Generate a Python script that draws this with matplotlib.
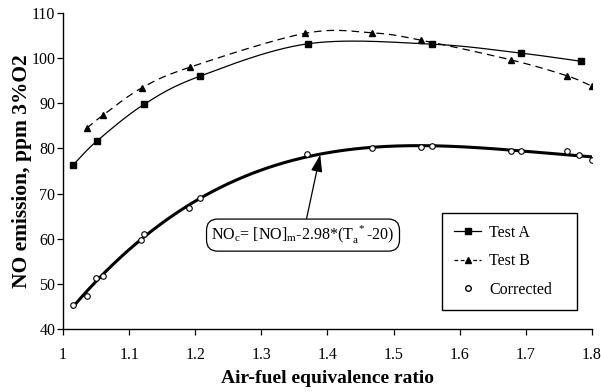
import numpy as np
import matplotlib
matplotlib.use("Agg")
import matplotlib.pyplot as plt

# ----------------------------------------------------------
# Data
# ----------------------------------------------------------

test_a_x = [1.015, 1.051, 1.123, 1.207, 1.371, 1.558, 1.693, 1.784]
test_a_y = [76.3, 81.6, 89.8, 96.0, 103.2, 103.1, 101.1, 99.3]

test_b_x = [1.036, 1.060, 1.119, 1.192, 1.366, 1.468, 1.541, 1.678, 1.762, 1.800]
test_b_y = [84.5, 87.3, 93.4, 98.0, 105.5, 105.6, 104.0, 99.6, 96.1, 93.8]

corr_x = [1.015, 1.036, 1.050, 1.060, 1.118, 1.123, 1.191, 1.207, 1.369,
          1.468, 1.541, 1.558, 1.678, 1.693, 1.762, 1.780, 1.800]
corr_y = [45.4, 47.3, 51.3, 51.7, 59.7, 61.0, 66.9, 69.0, 78.8,
          80.1, 80.3, 80.5, 79.4, 79.5, 79.4, 78.6, 77.4]

xticks = [1, 1.1, 1.2, 1.3, 1.4, 1.5, 1.6, 1.7, 1.8]
xtick_labels = ["1", "1.1", "1.2", "1.3", "1.4", "1.5", "1.6", "1.7", "1.8"]
yticks = [40, 50, 60, 70, 80, 90, 100, 110]


def smooth(x, y, n=30):
    # Catmull-Rom style smoothing, like the spreadsheet "smoothed line"
    x = np.asarray(x, float)
    y = np.asarray(y, float)
    px = np.concatenate([[2 * x[0] - x[1]], x, [2 * x[-1] - x[-2]]])
    py = np.concatenate([[2 * y[0] - y[1]], y, [2 * y[-1] - y[-2]]])
    xs, ys = [], []
    t = np.linspace(0, 1, n)
    for i in range(1, len(px) - 2):
        for p, out in ((px, xs), (py, ys)):
            p0, p1, p2, p3 = p[i - 1], p[i], p[i + 1], p[i + 2]
            out.extend(0.5 * ((2 * p1) + (-p0 + p2) * t
                              + (2 * p0 - 5 * p1 + 4 * p2 - p3) * t ** 2
                              + (-p0 + 3 * p1 - 3 * p2 + p3) * t ** 3))
    return np.array(xs), np.array(ys)


plt.rcParams["font.family"] = ["Liberation Serif", "DejaVu Serif"]
plt.rcParams["mathtext.fontset"] = "custom"
plt.rcParams["mathtext.rm"] = "Liberation Serif"

fig = plt.figure(figsize=(6.01, 3.92), dpi=100)
ax = fig.add_axes([0.1048, 0.1607, 0.8802, 0.8061])

# Test A
sx, sy = smooth(test_a_x, test_a_y)
ax.plot(sx, sy, color="black", lw=0.9)
ax.plot(test_a_x, test_a_y, ls="none", marker="s", ms=5, color="black")

# Test B
sx, sy = smooth(test_b_x, test_b_y)
ax.plot(sx, sy, color="black", lw=0.9, dashes=(6, 4))
ax.plot(test_b_x, test_b_y, ls="none", marker="^", ms=5, color="black")

# Corrected + trend line
coef = np.polyfit(corr_x, corr_y, 4)
fx = np.linspace(min(corr_x), max(corr_x), 200)
ax.plot(fx, np.polyval(coef, fx), color="black", lw=2.2)
ax.plot(corr_x, corr_y, ls="none", marker="o", ms=4, mfc="white",
        mec="black", mew=0.8)

# legend proxies
ax.plot([], [], color="black", lw=0.9, marker="s", ms=4, label="Test A")
ax.plot([], [], color="black", lw=0.9, ls="--", dashes=(3, 2), marker="^",
        ms=4, label="Test B")
ax.plot([], [], ls="none", marker="o", ms=4, mfc="white", mec="black",
        label="Corrected")
leg = ax.legend(loc="upper left", bbox_to_anchor=(0.7165, 0.057, 0.255, 0.31),
                mode="expand", borderaxespad=0, frameon=True, fancybox=False,
                fontsize=11.5, handlelength=1.7, labelspacing=0.78,
                borderpad=0.75, handletextpad=0.5)
leg.get_frame().set_edgecolor("black")
leg.get_frame().set_linewidth(1.0)
leg.get_frame().set_alpha(1)

# Annotation
ax.annotate(r"NO$_\mathrm{c}$= [NO]$_\mathrm{m}$-2.98*(T$_\mathrm{a}^{\ *}$-20)",
            xy=(1.389, 78.6), xytext=(1.363, 60.8),
            fontsize=11.5, ha="center", va="center",
            bbox=dict(boxstyle="round,pad=0.3,rounding_size=0.7",
                      fc="white", ec="black", lw=0.9),
            arrowprops=dict(arrowstyle="-|>,head_length=0.9,head_width=0.3",
                            color="black", lw=0.9, shrinkA=0, shrinkB=0))

ax.set_xlim(1, 1.8)
ax.set_ylim(40, 110)
ax.set_xticks(xticks)
ax.set_xticklabels(xtick_labels)
ax.set_yticks(yticks)
ax.tick_params(labelsize=11.5, direction="out", length=4, width=0.9)
ax.tick_params(axis="x", pad=9)
ax.tick_params(axis="y", pad=1.5)
ax.spines["top"].set_visible(False)
ax.spines["right"].set_visible(False)
ax.spines["left"].set_linewidth(1.0)
ax.spines["bottom"].set_linewidth(1.0)

ax.set_xlabel("Air-fuel equivalence ratio", fontsize=14, fontweight="bold",
              labelpad=5)
ax.set_ylabel("NO emission, ppm 3%O2", fontsize=15.5, fontweight="bold",
              labelpad=-0.5)

fig.savefig("out.png", dpi=100)
